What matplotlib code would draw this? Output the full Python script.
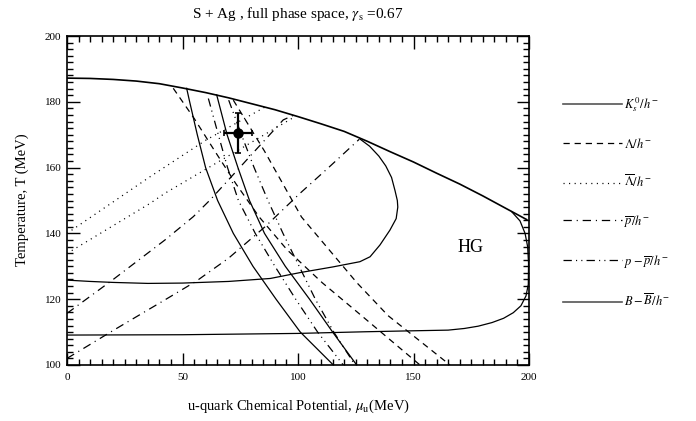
import matplotlib
matplotlib.use("Agg")
import matplotlib.pyplot as plt
from matplotlib.lines import Line2D

plt.rcParams['font.family'] = ['Liberation Serif', 'DejaVu Serif']
plt.rcParams['mathtext.fontset'] = 'stix'
plt.rcParams['lines.scale_dashes'] = False

# upper phase boundary
bound_mu = [0, 10, 20, 30, 40, 50, 60, 70, 80, 90, 100, 110, 120, 130, 140, 150, 160, 170, 180, 190, 199]
bound_T = [187.2, 187.1, 186.8, 186.3, 185.5, 184.2, 182.8, 181.2, 179.4, 177.6, 175.5,
           173.3, 171.0, 168.0, 164.8, 161.7, 158.3, 155.0, 151.4, 147.6, 144.2]

# K0s/h- contours
k0_in_mu = [0, 10, 20, 35, 50, 70, 88, 101, 115, 126.8, 131.2, 135.5, 139.8, 142.5, 143.2,
            143, 142, 140.5, 138, 135, 131, 126.8]
k0_in_T = [125.8, 125.4, 125.1, 124.8, 124.9, 125.4, 126.3, 128.1, 129.8, 131.4, 132.9, 136.5,
           141, 144.5, 148, 150, 153, 157, 160.5, 163.5, 166.5, 168.7]
k0_out_mu = [0, 50, 100, 129, 150, 165, 172, 178, 184, 189, 193.2, 196.5, 198.7, 199.7, 199.8,
             199.4, 198.3, 196.1, 192.5]
k0_out_T = [109.1, 109.2, 109.6, 110.1, 110.4, 110.6, 111.1, 111.8, 112.9, 114.2, 115.9, 118,
            121, 124.5, 131, 136, 140, 143.8, 146.6]

# Lambda/h-
lam_T = [184.1, 175, 165, 155, 145, 135, 125, 115, 100]
lam1_mu = [46, 55, 64, 73.2, 83.2, 95.3, 110.5, 127.5, 152.8]
lam2_T = [180.5, 175, 165, 155, 145, 135, 125, 115, 100]
lam2_mu = [72, 76.8, 85.5, 93.5, 101.5, 113.5, 125.5, 139, 165.8]

# anti-Lambda/h-
alam1_mu = [0, 35.9, 60, 85.7]
alam1_T = [140, 157.2, 168.3, 178.4]
alam2_mu = [0, 35.9, 42.4, 70, 98.7]
alam2_T = [133.9, 149.1, 152.2, 163.6, 175.5]

# anti-p/h-
pbar1_mu = [0, 20, 42.4, 54.7, 62, 78, 93.6, 99]
pbar1_T = [115.7, 126, 138, 145.1, 150.2, 162.5, 174.5, 176.2]
pbar2_mu = [0, 20, 42.4, 56, 70, 85.7, 100.9, 114, 126.5]
pbar2_T = [102, 110.5, 119.8, 125.5, 132.5, 142, 152.2, 160.5, 168.6]

# (p - anti-p)/h-
net1_T = [181, 170, 160, 150, 140, 130, 120, 110, 100]
net1_mu = [61.2, 65.5, 69.5, 74.2, 81.5, 90, 99, 108.5, 119.6]
net2_T = [180.5, 170, 160, 150, 140, 130, 120, 110, 100]
net2_mu = [70, 75.5, 81, 87, 93.5, 100.5, 107.5, 115.5, 124.7]

# (B - anti-B)/h-
bar1_T = [184.1, 180, 170, 160, 150, 140, 130, 120, 110, 100]
bar1_mu = [51.8, 53.1, 56.4, 60, 65.2, 72, 80.5, 90.5, 101, 115.3]
bar2_T = [182.1, 170, 160, 150, 140, 130, 120, 110, 100]
bar2_mu = [64.8, 69.3, 74, 79, 85.5, 94.5, 105, 115, 125.4]

# fitted freeze-out point
fit_mu, fit_T = 74, 170.5
fit_mu_err, fit_T_err = 6, 6

solid = '-'
dashed = (0, (4.5, 3.5))
dotted = (0, (0.8, 3.2))
dashdot = (0, (6, 3.5, 0.8, 3.5))
dashdotdot = (0, (6, 3, 0.8, 3, 0.8, 3))

fig = plt.figure(figsize=(6.96, 4.21), dpi=100)
ax = fig.add_axes([67 / 696, 1 - 365 / 421, 462 / 696, 329 / 421])

lw = 0.9
ax.plot(bound_mu, bound_T, color='black', lw=1.2, ls=solid)
ax.plot(k0_in_mu, k0_in_T, color='black', lw=lw, ls=solid)
ax.plot(k0_out_mu, k0_out_T, color='black', lw=lw, ls=solid)
ax.plot(lam1_mu, lam_T, color='black', lw=lw, ls=dashed)
ax.plot(lam2_mu, lam2_T, color='black', lw=lw, ls=dashed)
ax.plot(alam1_mu, alam1_T, color='black', lw=lw, ls=dotted)
ax.plot(alam2_mu, alam2_T, color='black', lw=lw, ls=dotted)
ax.plot(pbar1_mu, pbar1_T, color='black', lw=lw, ls=dashdot)
ax.plot(pbar2_mu, pbar2_T, color='black', lw=lw, ls=dashdot)
ax.plot(net1_mu, net1_T, color='black', lw=lw, ls=dashdotdot)
ax.plot(net2_mu, net2_T, color='black', lw=lw, ls=dashdotdot)
ax.plot(bar1_mu, bar1_T, color='black', lw=lw, ls=solid)
ax.plot(bar2_mu, bar2_T, color='black', lw=lw, ls=solid)

ax.errorbar(fit_mu, fit_T, xerr=fit_mu_err, yerr=fit_T_err, fmt='o', color='black',
            ms=6.5, elinewidth=1.6, capsize=2, capthick=1.2)

ax.text(174.5, 135.6, 'HG', fontsize=13, ha='center', va='center')

ax.set_xlim(0, 200)
ax.set_ylim(100, 200)
ax.set_xticks([0, 50, 100, 150, 200])
ax.set_yticks([100, 120, 140, 160, 180, 200])
ax.set_xticks(range(0, 201, 5), minor=True)
ax.set_yticks(range(100, 201, 2), minor=True)
ax.tick_params(which='both', direction='in', top=True, right=True, labelsize=8, width=1.0)
ax.tick_params(which='major', length=9)
ax.tick_params(which='minor', length=4.5)
ax.tick_params(axis='x', pad=6)
ax.tick_params(axis='y', pad=4)
for sp in ax.spines.values():
    sp.set_linewidth(1.2)

fig.text(298 / 696, 1 - 14 / 421, r'S + Ag , full phase space, $\gamma_{\rm s}$ =0.67',
         fontsize=11, ha='center', va='center')
fig.text(298 / 696, 1 - 406 / 421, r'u-quark Chemical Potential, $\mu_{\rm u}$(MeV)',
         fontsize=10.5, ha='center', va='center')
fig.text(22 / 696, 1 - 200 / 421, 'Temperature, T (MeV)', fontsize=10.5,
         rotation=90, ha='center', va='center')

handles = [
    Line2D([], [], color='#555555', lw=1.2, ls=solid),
    Line2D([], [], color='black', lw=lw, ls=dashed),
    Line2D([], [], color='black', lw=lw, ls=dotted),
    Line2D([], [], color='black', lw=lw, ls=dashdot),
    Line2D([], [], color='black', lw=lw, ls=dashdotdot),
    Line2D([], [], color='#555555', lw=1.2, ls=solid),
]
labels = [r'$K_s^{\,0}/h^{-}$', r'$\Lambda/h^{-}$', r'$\overline{\Lambda}/h^{-}$',
          r'$\overline{p}/h^{-}$', r'$p-\overline{p}/h^{-}$', r'$B-\overline{B}/h^{-}$']
fig.legend(handles, labels, loc='upper left', bbox_to_anchor=(558 / 696, 1 - 90 / 421),
           frameon=False, fontsize=9, handlelength=4.7, handletextpad=0.15,
           labelspacing=1.85, borderaxespad=0)

fig.savefig('out.png', dpi=100)
